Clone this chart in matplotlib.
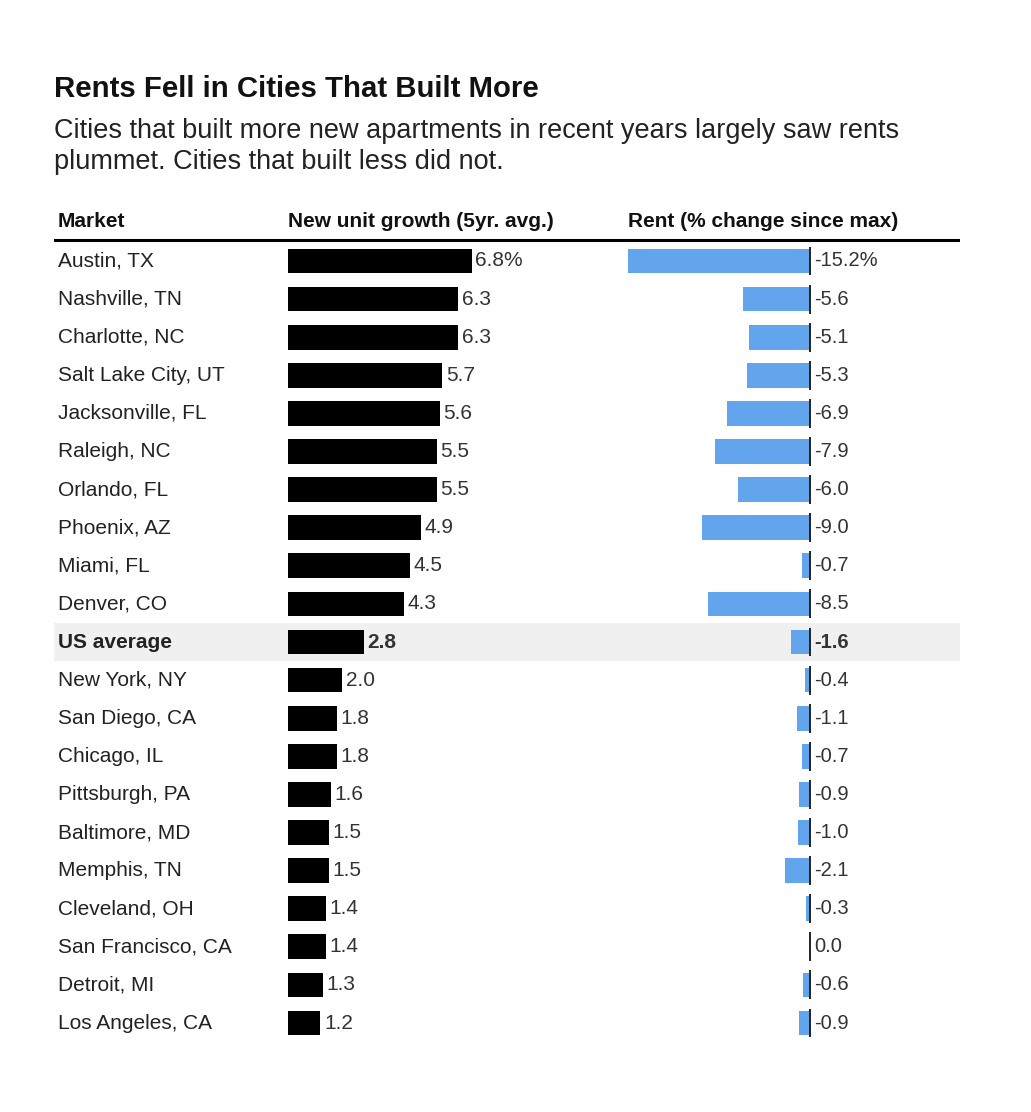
import numpy as np
import matplotlib.pyplot as plt

plt.rcParams['font.family'] = ['Liberation Sans', 'DejaVu Sans']

title = "Rents Fell in Cities That Built More"
subtitle = ["Cities that built more new apartments in recent years largely saw rents",
            "plummet. Cities that built less did not."]
headers = ["Market", "New unit growth (5yr. avg.)", "Rent (% change since max)"]

markets = ["Austin, TX", "Nashville, TN", "Charlotte, NC", "Salt Lake City, UT",
           "Jacksonville, FL", "Raleigh, NC", "Orlando, FL", "Phoenix, AZ",
           "Miami, FL", "Denver, CO", "US average", "New York, NY",
           "San Diego, CA", "Chicago, IL", "Pittsburgh, PA", "Baltimore, MD",
           "Memphis, TN", "Cleveland, OH", "San Francisco, CA", "Detroit, MI",
           "Los Angeles, CA"]
growth = [6.8, 6.3, 6.3, 5.7, 5.6, 5.5, 5.5, 4.9, 4.5, 4.3, 2.8,
          2.0, 1.8, 1.8, 1.6, 1.5, 1.5, 1.4, 1.4, 1.3, 1.2]
rent = [-15.2, -5.6, -5.1, -5.3, -6.9, -7.9, -6.0, -9.0, -0.7, -8.5, -1.6,
        -0.4, -1.1, -0.7, -0.9, -1.0, -2.1, -0.3, 0.0, -0.6, -0.9]
highlight = "US average"

W, H = 1031, 1112
BLUE = "#62a5ec"
TXT = "#222222"

# pixel layout helpers
row0, row_h = 261.0, 38.1
top_px = row0 - 1.5 * row_h
bot_px = row0 + (len(markets) - 0.5) * row_h


def fx(px):
    return px / W


def fy(py):
    return 1 - py / H


def axes_rect(x0, x1):
    return [fx(x0), fy(bot_px), fx(x1) - fx(x0), fy(top_px) - fy(bot_px)]


fig = plt.figure(figsize=(W / 100, H / 100), dpi=100)
fig.patch.set_facecolor("white")

n = len(markets)
y = np.arange(n)
ylim = (n - 0.5, -1.5)

# background / table axis
bg = fig.add_axes(axes_rect(54, 960))
bg.set_xlim(0, 1)
bg.set_ylim(*ylim)
bg.axis("off")
hi = markets.index(highlight)
bg.axhspan(hi - 0.5, hi + 0.5, color="#f0f0f0", lw=0, zorder=0)
bg.axhline(-0.56, color="black", lw=2.2)

for i, m in enumerate(markets):
    bg.text(0.0045, i, m, va="center", ha="left", fontsize=15, color=TXT,
            fontweight="bold" if m == highlight else "normal")

# black bars: new unit growth
px_per_unit = 27.06
ax1 = fig.add_axes(axes_rect(288, 600))
ax1.set_xlim(0, (600 - 288) / px_per_unit)
ax1.set_ylim(*ylim)
ax1.axis("off")
ax1.patch.set_alpha(0)
ax1.barh(y, growth, height=0.65, color="black")
for i, v in enumerate(growth):
    lab = f"{v:.1f}%" if i == 0 else f"{v:.1f}"
    ax1.annotate(lab, (v, i), xytext=(2.5, 0), textcoords="offset points",
                 va="center", ha="left", fontsize=15, color="#333333",
                 fontweight="bold" if markets[i] == highlight else "normal")

# blue bars: rent change
px_rent = 11.97
zero_px = 810
ax2 = fig.add_axes(axes_rect(600, 960))
ax2.set_xlim(-(zero_px - 600) / px_rent, (960 - zero_px) / px_rent)
ax2.set_ylim(*ylim)
ax2.axis("off")
ax2.patch.set_alpha(0)
ax2.barh(y, rent, height=0.65, color=BLUE)
ax2.vlines(np.zeros(n), y - 0.38, y + 0.38, color="#222222", lw=1.4)
for i, v in enumerate(rent):
    lab = f"{v:.1f}%" if i == 0 else f"{v:.1f}"
    ax2.annotate(lab, (0, i), xytext=(3, 0), textcoords="offset points",
                 va="center", ha="left", fontsize=14.5, color="#333333",
                 fontweight="bold" if markets[i] == highlight else "normal")

# headers
for x_px, h in zip([58, 288, 628], headers):
    fig.text(fx(x_px), fy(227), h, ha="left", va="baseline",
             fontsize=15, fontweight="bold", color="#111111")

# title + subtitle
fig.text(fx(54), fy(97), title, ha="left", va="baseline",
         fontsize=21.2, fontweight="bold", color="#111111")
for k, line in enumerate(subtitle):
    fig.text(fx(54), fy(138 + 31 * k), line, ha="left", va="baseline",
             fontsize=19.5, color="#222222")

fig.savefig("out.png", dpi=100, facecolor="white")
